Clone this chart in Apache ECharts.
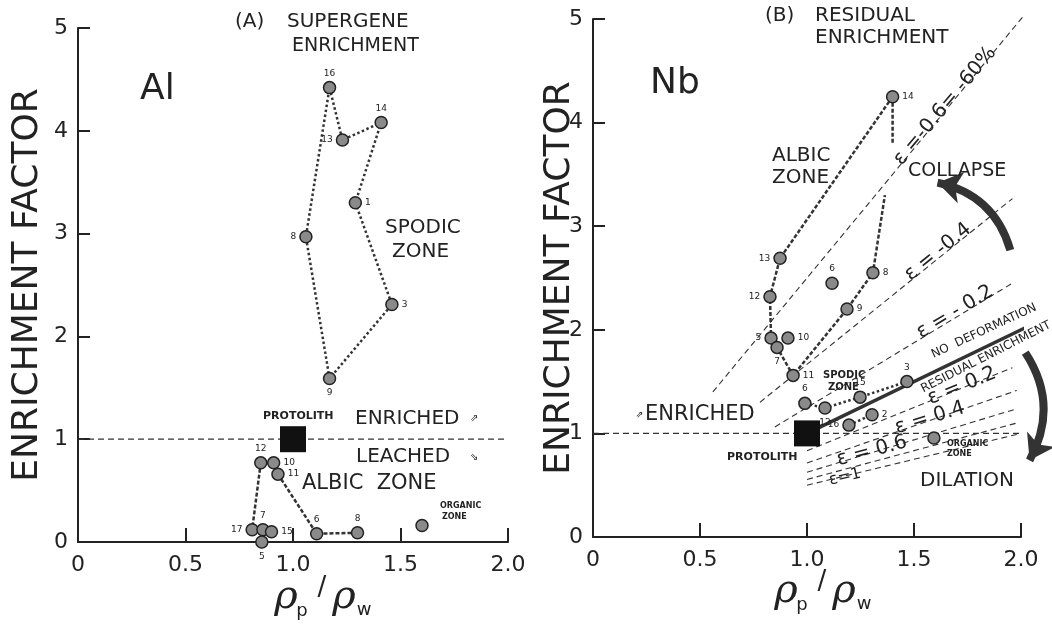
<!DOCTYPE html>
<html>
<head>
<meta charset="utf-8">
<script src="https://cdn.jsdelivr.net/npm/echarts@6/dist/echarts.min.js"></script>
<style>
html, body { margin: 0; background: #fff; }
#main { width: 1052px; height: 630px; }
</style>
</head>
<body>
<div id="main"></div>
<script>
// ---- data ----
// (A) Al
var alSpodicId = ['9', '8', '16', '13', '14', '1', '3'];
var alSpodicX  = [1.17, 1.06, 1.17, 1.23, 1.41, 1.29, 1.46];
var alSpodicY  = [1.59, 2.97, 4.42, 3.91, 4.08, 3.30, 2.31];
var alAlbicId = ['12', '17', '7', '5', '15', '10', '11', '6', '8'];
var alAlbicX  = [0.85, 0.81, 0.86, 0.855, 0.90, 0.91, 0.93, 1.11, 1.30];
var alAlbicY  = [0.77, 0.12, 0.12, 0.00, 0.10, 0.77, 0.66, 0.08, 0.09];
var alOrganic = [1.60, 0.16];

// (B) Nb
var nbAlbicId = ['14', '13', '12', '5', '7', '10', '11', '9', '8', '6'];
var nbAlbicX  = [1.40, 0.874, 0.827, 0.832, 0.86, 0.911, 0.935, 1.187, 1.308, 1.117];
var nbAlbicY  = [4.25, 2.69, 2.32, 1.92, 1.83, 1.92, 1.56, 2.20, 2.55, 2.45];
var nbTraceEnds = [[1.364, 3.30], [1.40, 3.80]];   // where the 14 - 8 trace is broken by the label
var nbSpodicId = ['6', '12', '15', '3', '16', '2'];
var nbSpodicX  = [0.99, 1.084, 1.248, 1.467, 1.196, 1.304];
var nbSpodicY  = [1.29, 1.245, 1.35, 1.50, 1.08, 1.18];
var nbOrganic = [1.593, 0.955];

var protolith = [1.0, 1.0];
var epsValues = [-0.6, -0.4, -0.2, 0, 0.2, 0.4, 0.6, 0.8, 1.0];
var epsFrom   = [0.56, 0.78, 0.85, 1.0, 1.0, 1.0, 1.0, 1.0, 1.0];
var epsTo     = [2.02, 1.96, 1.96, 2.07, 1.96, 1.98, 1.98, 1.98, 1.98];
var collapseArrow = [[1.95, 2.77], [1.61, 3.42]];
var dilationArrow = [[2.02, 1.78], [2.04, 0.74]];

// ---- styles ----
var ink = '#222';
var F = 'DejaVu Sans';
var alSpodicPos = ['bottom', 'left', 'top', 'left', 'top', 'right', 'right'];
var alAlbicPos  = ['top', 'left', 'top', 'bottom', 'right', 'right', 'right', 'top', 'top'];
var nbAlbicPos  = ['right', 'left', 'left', 'left', 'bottom', 'right', 'right', 'right', 'right', 'top'];
var nbSpodicPos = ['top', 'bottom', 'top', 'top', 'left', 'right'];

var chart = echarts.init(document.getElementById('main'));

function pts(ids, xs, ys, pos) {
    return ids.map(function (id, i) {
        return { name: id, value: [xs[i], ys[i]], label: { position: pos[i] } };
    });
}
function path(xs, ys, idx) {
    return idx.map(function (i) { return [xs[i], ys[i]]; });
}
function trace(g, data, type, width) {
    return {
        type: 'line', xAxisIndex: g, yAxisIndex: g, data: data, symbol: 'none',
        clip: false, silent: true, z: 3,
        lineStyle: { color: '#333', width: width || 2.5, type: type }
    };
}
function dots(g, data) {
    return {
        type: 'scatter', xAxisIndex: g, yAxisIndex: g, data: data, z: 5,
        symbolSize: 12,
        itemStyle: { color: '#8a8a8a', borderColor: ink, borderWidth: 1.5, opacity: 1 },
        label: { show: true, formatter: '{b}', fontSize: 9, color: ink, fontFamily: F, distance: 3 }
    };
}
function square(g) {
    return {
        type: 'scatter', xAxisIndex: g, yAxisIndex: g, data: [protolith], z: 6,
        symbol: 'rect', symbolSize: 26, itemStyle: { color: '#111', opacity: 1 }
    };
}
function xAx(g) {
    return {
        type: 'value', gridIndex: g, min: 0, max: 2, interval: 0.5,
        axisLine: { lineStyle: { color: ink, width: 2 } },
        axisTick: { inside: true, length: 14, lineStyle: { color: ink, width: 2 } },
        axisLabel: {
            color: ink, fontSize: 22, margin: 12, fontFamily: F,
            formatter: function (v) { return v === 0 ? '0' : v.toFixed(1); }
        },
        splitLine: { show: false }
    };
}
function yAx(g, gap) {
    return {
        type: 'value', gridIndex: g, min: 0, max: 5, interval: 1,
        name: 'ENRICHMENT FACTOR', nameLocation: 'middle', nameGap: gap, nameMoveOverlap: false,
        nameTextStyle: { color: ink, fontSize: 36, fontFamily: F },
        axisLine: { show: true, lineStyle: { color: ink, width: 2 } },
        axisTick: { show: true, inside: true, length: 12, lineStyle: { color: ink, width: 2 } },
        axisLabel: { color: ink, fontSize: 22, margin: 10, fontFamily: F },
        splitLine: { show: false }
    };
}
function txt(x, y, text, size, extra) {
    var st = { text: text, fontSize: size, fontFamily: F, fill: ink, align: 'left', verticalAlign: 'middle' };
    for (var k in (extra || {})) st[k] = extra[k];
    return { type: 'text', x: x, y: y, style: st, z: 10 };
}
function rtxt(x, y, text, size, deg) {
    var e = txt(x, y, text, size, { align: 'center' });
    e.rotation = deg * Math.PI / 180;
    return e;
}
function rhoTitle(x, y) {
    var it = { fontFamily: 'DejaVu Serif', fontStyle: 'italic', align: 'center' };
    return [
        txt(x, y, 'ρ', 40, it),
        txt(x + 16, y + 13, 'p', 18, { align: 'center' }),
        txt(x + 36, y - 10, '/', 26, { align: 'center' }),
        txt(x + 58, y, 'ρ', 40, it),
        txt(x + 78, y + 12, 'w', 18, { align: 'center' })
    ];
}

var series = [];
// (A)
series.push(trace(0, [[0, 1], [2, 1]], [6, 4], 1.2));
series.push(trace(0, path(alSpodicX, alSpodicY, [0, 1, 2, 3, 4, 5, 6, 0]), 'dotted', 2.5));
series.push(trace(0, path(alAlbicX, alAlbicY, [0, 1, 2, 4]), [4, 2], 2.5));
series.push(trace(0, path(alAlbicX, alAlbicY, [5, 6, 7, 8]), [4, 2], 2.5));
series.push(dots(0, pts(alSpodicId, alSpodicX, alSpodicY, alSpodicPos)));
series.push(dots(0, pts(alAlbicId, alAlbicX, alAlbicY, alAlbicPos)));
series.push(dots(0, [{ name: '', value: alOrganic }]));
series.push(square(0));
// (B) deformation lines  EF = (rho_p/rho_w) / (1 + eps)
epsValues.forEach(function (e, i) {
    var d = [[epsFrom[i], epsFrom[i] / (1 + e)], [epsTo[i], epsTo[i] / (1 + e)]];
    series.push(e === 0 ? trace(1, d, 'solid', 3.5) : trace(1, d, [6, 4], 1.1));
});
series.push(trace(1, [[0, 1], [2, 1]], [6, 4], 1.2));
var nbMain = path(nbAlbicX, nbAlbicY, [0, 1, 2, 3, 4, 6, 7, 8]);
nbMain.push(nbTraceEnds[0]);
series.push(trace(1, nbMain, [4, 2], 2.5));
series.push(trace(1, [[nbAlbicX[0], nbAlbicY[0]], nbTraceEnds[1]], [4, 2], 2.5));
series.push(trace(1, path(nbSpodicX, nbSpodicY, [0, 1, 2, 3]), 'dotted', 2.5));
series.push(trace(1, path(nbSpodicX, nbSpodicY, [4, 5]), 'dotted', 2.5));
series.push(dots(1, pts(nbAlbicId, nbAlbicX, nbAlbicY, nbAlbicPos)));
series.push(dots(1, pts(nbSpodicId, nbSpodicX, nbSpodicY, nbSpodicPos)));
series.push(dots(1, [{ name: '', value: nbOrganic }]));
series.push(square(1));
series.push({
    type: 'lines', coordinateSystem: 'cartesian2d', xAxisIndex: 1, yAxisIndex: 1, clip: false, z: 7,
    symbol: ['none', 'arrow'], symbolSize: 24,
    data: [
        { coords: collapseArrow, lineStyle: { curveness: -0.3 } },
        { coords: dilationArrow, lineStyle: { curveness: 0.3 } }
    ],
    lineStyle: { color: '#333', width: 8, opacity: 1 }
});

var graphic = [
    // (A)
    txt(235, 22, '(A)', 20), txt(287, 22, 'SUPERGENE', 20), txt(292, 46, 'ENRICHMENT', 19),
    txt(140, 90, 'Al', 36),
    txt(385, 228, 'SPODIC', 20), txt(392, 252, 'ZONE', 20),
    txt(263, 416, 'PROTOLITH', 11, { fontWeight: 'bold' }),
    txt(355, 419, 'ENRICHED', 20), txt(470, 418, '⇗', 10),
    txt(356, 457, 'LEACHED', 20), txt(470, 457, '⇘', 10),
    txt(302, 484, 'ALBIC  ZONE', 21),
    txt(440, 506, 'ORGANIC', 8, { fontWeight: 'bold' }), txt(442, 517, 'ZONE', 8, { fontWeight: 'bold' }),
    // (B)
    txt(765, 16, '(B)', 20), txt(815, 16, 'RESIDUAL', 20), txt(815, 38, 'ENRICHMENT', 20),
    txt(650, 84, 'Nb', 36),
    txt(772, 156, 'ALBIC', 20), txt(772, 178, 'ZONE', 20),
    txt(908, 171, 'COLLAPSE', 19),
    txt(920, 481, 'DILATION', 20),
    txt(636, 415, '⇗', 9), txt(645, 415, 'ENRICHED', 21),
    txt(727, 457, 'PROTOLITH', 11, { fontWeight: 'bold' }),
    txt(823, 375, 'SPODIC', 10, { fontWeight: 'bold' }), txt(828, 387, 'ZONE', 10, { fontWeight: 'bold' }),
    txt(947, 444, 'ORGANIC', 8, { fontWeight: 'bold' }), txt(947, 454, 'ZONE', 8, { fontWeight: 'bold' }),
    rtxt(945, 106, 'ε =-0.6= -60%', 20, 50),
    rtxt(938, 252, 'ε = -0.4', 20, 39),
    rtxt(955, 312, 'ε = - 0.2', 20, 31),
    rtxt(984, 331, 'NO  DEFORMATION', 12, 25),
    rtxt(986, 357, 'RESIDUAL ENRICHMENT', 12, 27),
    rtxt(962, 386, 'ε = 0.2', 20, 22),
    rtxt(930, 418, 'ε = 0.4', 20, 17),
    rtxt(872, 451, 'ε = 0.6', 20, 15),
    rtxt(845, 477, 'ε=1', 16, 13)
].concat(rhoTitle(286, 598), rhoTitle(786, 592));

var option = {
    backgroundColor: '#fff',
    animation: false,
    grid: [
        { left: 78, top: 28, width: 430, height: 514 },
        { left: 593, top: 19, width: 428, height: 518 }
    ],
    xAxis: [xAx(0), xAx(1)],
    yAxis: [yAx(0, 32), yAx(1, 15)],
    series: series,
    graphic: graphic
};
chart.setOption(option);
</script>
</body>
</html>
